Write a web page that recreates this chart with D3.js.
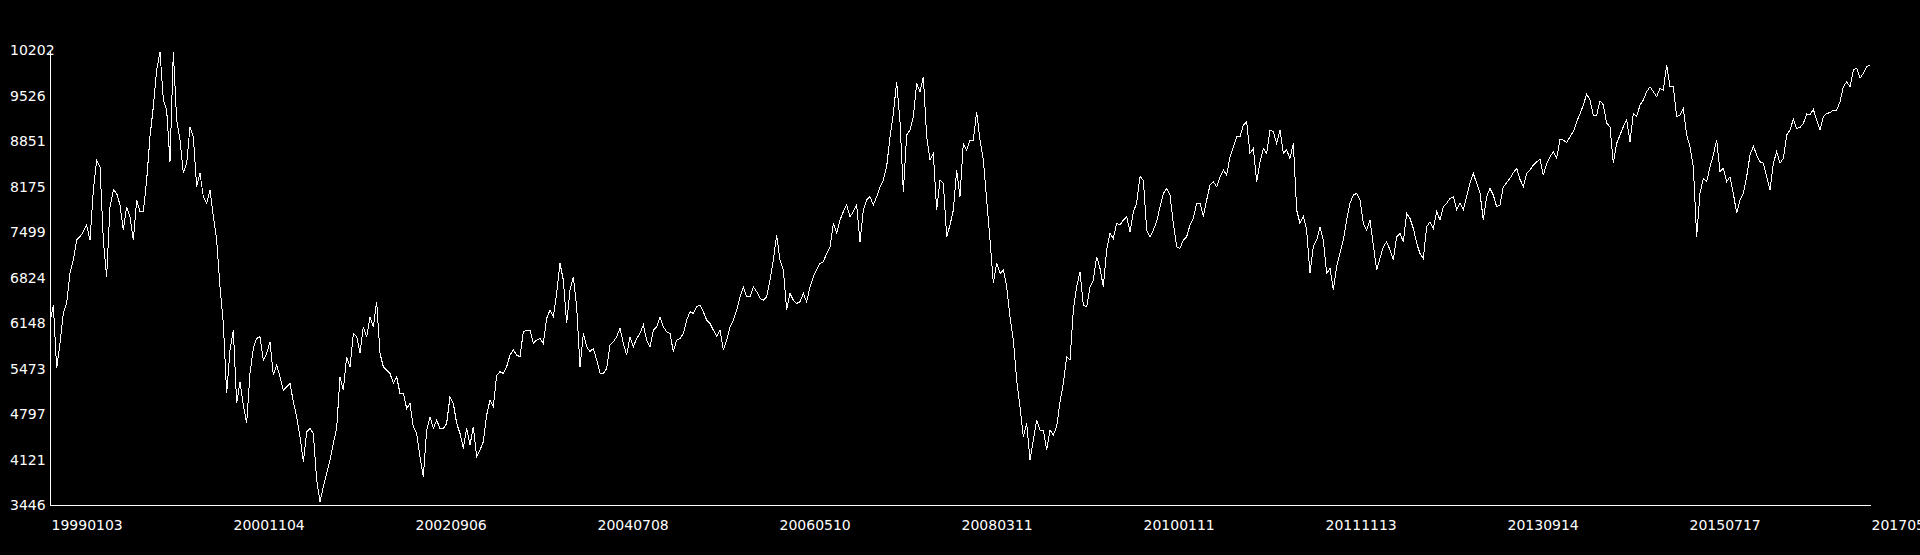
<!DOCTYPE html>
<html>
<head>
<meta charset="utf-8">
<script src="https://cdn.jsdelivr.net/npm/d3@7"></script>
<style>
  html, body { margin: 0; padding: 0; background: #000; overflow: hidden; }
  svg { display: block; background: #000; }
</style>
</head>
<body>
<svg id="chart" width="1920" height="555"></svg>
<script>
// x-axis category labels (dates)
const xLabels = ["19990103","20001104","20020906","20040708","20060510","20080311","20100111","20111113","20130914","20150717","20170518"];
// y-axis tick labels
const yTicks = [3446,4121,4797,5473,6148,6824,7499,8175,8851,9526,10202];

// series values (equally spaced samples, oldest first)
const values1999_2003 = [
6168,6415,5474,5846,6291,6440,6885,7083,7380,7430,7504,7603,7380,8123,8568,8469,7380,6836,7875,8123,
8073,7900,7529,7875,7727,7380,7974,7801,7801,8271,8915,9360,9905,10177,9459,9311,8543,10177,9162,8865,
8370,8519,9063,8915,8172,8370,8024,7925,8123,7727,7380,6687,6143,5103,5747,6044,4955,5276,4930,4658,
5400,5771,5920,5945,5598,5697,5870,5375,5524,5350,5153,5202,5252,4979,4757,4460,4088,4534,4583,4509,
3816,3494,3717,3915,4113,4361,4583,5350,5153,5648,5499,5994,5945,5697,6093,5945,6242,6093,6464,5697,
5499,5450,5400,5252,5350,5103,5103,4880,4955,4608,4509,4163,3866,4559,4757,4583,4707,4583,4583,4658,
5054,4955,4658,4509,4286,4583,4336,4608,4163,4262,4385,4781,5004,4905,5375,5425,5400,5499
];
const values2003_2008 = [
5672,5747,5672,5648,6019,6044,6044,5846,5895,5920,5846,6217,6341,6242,6588,7034,6786,6143,6638,6836,
6390,5499,5994,5796,5722,5771,5598,5400,5400,5474,5821,5870,5945,6068,5846,5672,5945,5796,5920,5994,
6118,5895,5796,6044,6093,6242,6093,6019,5994,5722,5895,5920,5994,6192,6316,6291,6390,6415,6316,6192,
6143,6044,5945,6044,5747,5895,6093,6192,6341,6539,6687,6539,6539,6687,6613,6514,6489,6539,6786,7083,
7454,7083,6935,6341,6588,6489,6440,6464,6588,6464,6687,6836,6935,7034,7058,7182,7281,7628,7479,7677,
7801,7900,7727,7801,7900,7355,7826,7974,8024,7900,8024,8172,8271,8469,8915,9261,9731,9137,8098,8939,
9014,9212,9707,9583,9806,8915,8568,8667,7826,8271,8222,7430,7603,7826,8420,8024,8816,8717
];
const values2008_2012 = [
8865,8865,9286,8865,8568,7974,7380,6737,7034,6885,6935,6687,6242,5895,5301,4905,4460,4658,4113,4410,
4707,4559,4559,4262,4559,4484,4608,4979,5252,5648,5598,6341,6687,6910,6415,6390,6687,6786,7133,6959,
6687,7232,7479,7405,7628,7603,7677,7727,7504,7801,7925,8321,8271,7529,7430,7529,7652,7875,8073,8147,
8048,7628,7281,7256,7380,7430,7603,7702,7925,7925,7727,7974,8197,8246,8172,8321,8420,8345,8618,8766,
8915,8915,9088,9137,8667,8741,8246,8543,8741,8667,9014,8989,8816,9014,8667,8717,8593,8816,7826,7628,
7727,7529,6885,7281,7380,7578,7380,6885,6959,6638,6984,7182,7380,7677,7925,8048,8073,7974,7628,7529,
7677,7306,6935,7108,7281,7355,7232,7083,7430,7479,7355,7776,7702,7553,7331,7182,7108,7578
];
const values2012_2017 = [
7652,7553,7801,7677,7875,7925,7999,8024,7826,7925,7826,8024,8222,8370,8222,8073,7677,8024,8147,8048,
7875,7900,8172,8231,8296,8380,8444,8281,8172,8370,8420,8494,8543,8578,8345,8519,8618,8692,8593,8875,
8865,8825,8915,8989,9137,9251,9385,9548,9459,9236,9236,9449,9385,9113,9063,8519,8816,8939,9063,9162,
8840,9261,9212,9385,9459,9583,9657,9583,9508,9632,9607,9979,9657,9657,9212,9236,9335,8939,8766,8469,
7430,8073,8296,8246,8469,8642,8865,8395,8444,8246,8320,8073,7776,7974,8073,8320,8642,8776,8642,8543,
8519,8320,8122,8519,8692,8519,8593,8939,9014,9172,9038,9053,9113,9251,9236,9320,9162,9014,9212,9261,
9271,9310,9310,9434,9657,9731,9657,9905,9929,9781,9855,9954,9979
];

const series = [].concat(values1999_2003, values2003_2008, values2008_2012, values2012_2017);
const n = series.length;

const svg = d3.select("#chart");
const margin = { left: 50, right: 50, top: 50, bottom: 50 };
const W = 1920, H = 555;

const x = d3.scaleLinear().domain([0, n - 1]).range([margin.left, W - margin.right]);
const y = d3.scaleLinear().domain([yTicks[0], yTicks[yTicks.length - 1]]).range([H - margin.bottom, margin.top]);

const font = "'DejaVu Sans', sans-serif";

// line
const line = d3.line().x((d, i) => x(i)).y(d => y(d));
svg.append("path")
  .datum(series)
  .attr("d", line)
  .attr("fill", "none")
  .attr("stroke", "#fff")
  .attr("stroke-width", 1)
  .attr("stroke-linejoin", "miter")
  .attr("shape-rendering", "crispEdges");

// y axis
const yAxis = svg.append("g")
  .attr("transform", `translate(${margin.left},0)`)
  .style("color", "#fff")
  .call(d3.axisLeft(y).tickValues(yTicks).tickFormat(d => String(d)).tickSize(0).tickSizeOuter(0));
yAxis.select(".domain").attr("stroke", "#fff").attr("shape-rendering", "crispEdges");
yAxis.selectAll("text")
  .attr("x", 10 - margin.left)
  .attr("dy", "0.34em")
  .attr("text-anchor", "start")
  .attr("fill", "#fff")
  .style("font-family", font)
  .style("font-size", "14px");

// x axis
const xTickVals = d3.range(xLabels.length).map(k => k * (n - 1) / (xLabels.length - 1));
const xAxis = svg.append("g")
  .attr("transform", `translate(0,${H - margin.bottom})`)
  .style("color", "#fff")
  .call(d3.axisBottom(x).tickValues(xTickVals).tickFormat((d, i) => xLabels[i]).tickSize(0).tickSizeOuter(0).tickPadding(15));
xAxis.select(".domain").attr("stroke", "#fff").attr("shape-rendering", "crispEdges");
xAxis.selectAll("text")
  .attr("x", 1)
  .attr("text-anchor", "start")
  .attr("fill", "#fff")
  .style("font-family", font)
  .style("font-size", "14px");
</script>
</body>
</html>
